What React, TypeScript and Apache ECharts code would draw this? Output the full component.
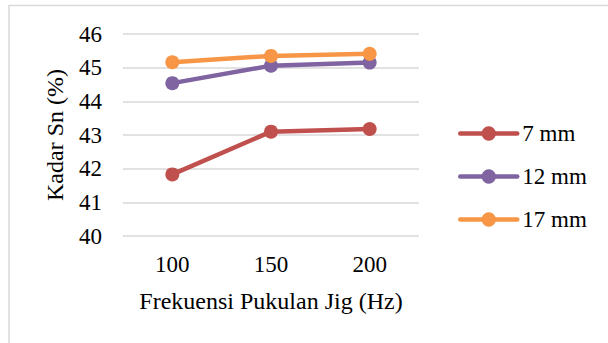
import React, { useEffect, useRef } from "react";
import * as echarts from "echarts";

const categories = ["100", "150", "200"];
const series7 = [41.83, 43.1, 43.18];
const series12 = [44.54, 45.06, 45.15];
const series17 = [45.16, 45.35, 45.41];
const seriesNames = ["7 mm", "12 mm", "17 mm"];
const colors = ["#C0504D", "#8064A2", "#F79646"];

export default function App() {
  const ref = useRef<HTMLDivElement>(null);
  useEffect(() => {
    if (!ref.current) return;
    const chart = echarts.init(ref.current, undefined, { renderer: "svg" });
    const font = "'Liberation Serif', 'Times New Roman', serif";
    const values = [series7, series12, series17];
    chart.setOption({
      animation: false,
      backgroundColor: "#ffffff",
      textStyle: { fontFamily: font },
      graphic: [
        {
          type: "rect",
          shape: { x: 9, y: 5.5, width: 700, height: 400 },
          style: { fill: "none", stroke: "#D9D9D9", lineWidth: 1.5 },
          silent: true,
        },
      ],
      grid: { left: 123, right: 189, top: 34, bottom: 107, containLabel: false },
      xAxis: {
        type: "category",
        data: categories,
        boundaryGap: true,
        axisLine: { show: false },
        axisTick: { show: false },
        axisLabel: { fontSize: 23, color: "#000", fontFamily: font, margin: 17 },
        name: "Frekuensi Pukulan Jig (Hz)",
        nameLocation: "middle",
        nameGap: 53,
        nameTextStyle: { fontSize: 24, color: "#000", fontFamily: font },
      },
      yAxis: {
        type: "value",
        min: 40,
        max: 46,
        interval: 1,
        axisLine: { show: false },
        axisTick: { show: false },
        splitLine: { lineStyle: { color: "#D9D9D9", width: 1.5 } },
        axisLabel: { fontSize: 23, color: "#000", fontFamily: font, margin: 21 },
        name: "Kadar Sn (%)",
        nameLocation: "middle",
        nameGap: 56,
        nameRotate: 90,
        nameTextStyle: { fontSize: 24, color: "#000", fontFamily: font },
      },
      legend: {
        orient: "vertical",
        left: 453,
        top: 117,
        itemWidth: 57,
        itemHeight: 18,
        itemGap: 20,
        lineStyle: { width: 4.5, cap: "round" },
        textStyle: { fontSize: 23, color: "#000", fontFamily: font },
        data: seriesNames,
      },
      series: seriesNames.map((name, i) => ({
        name,
        type: "line",
        data: values[i],
        symbol: "circle",
        symbolSize: 14,
        color: colors[i],
        lineStyle: { width: 4.5, color: colors[i], cap: "round" },
        itemStyle: { color: colors[i] },
      })),
    });
    return () => chart.dispose();
  }, []);
  return (
    <div
      ref={ref}
      style={{ position: "absolute", left: 0, top: 0, width: 608, height: 343 }}
    />
  );
}
